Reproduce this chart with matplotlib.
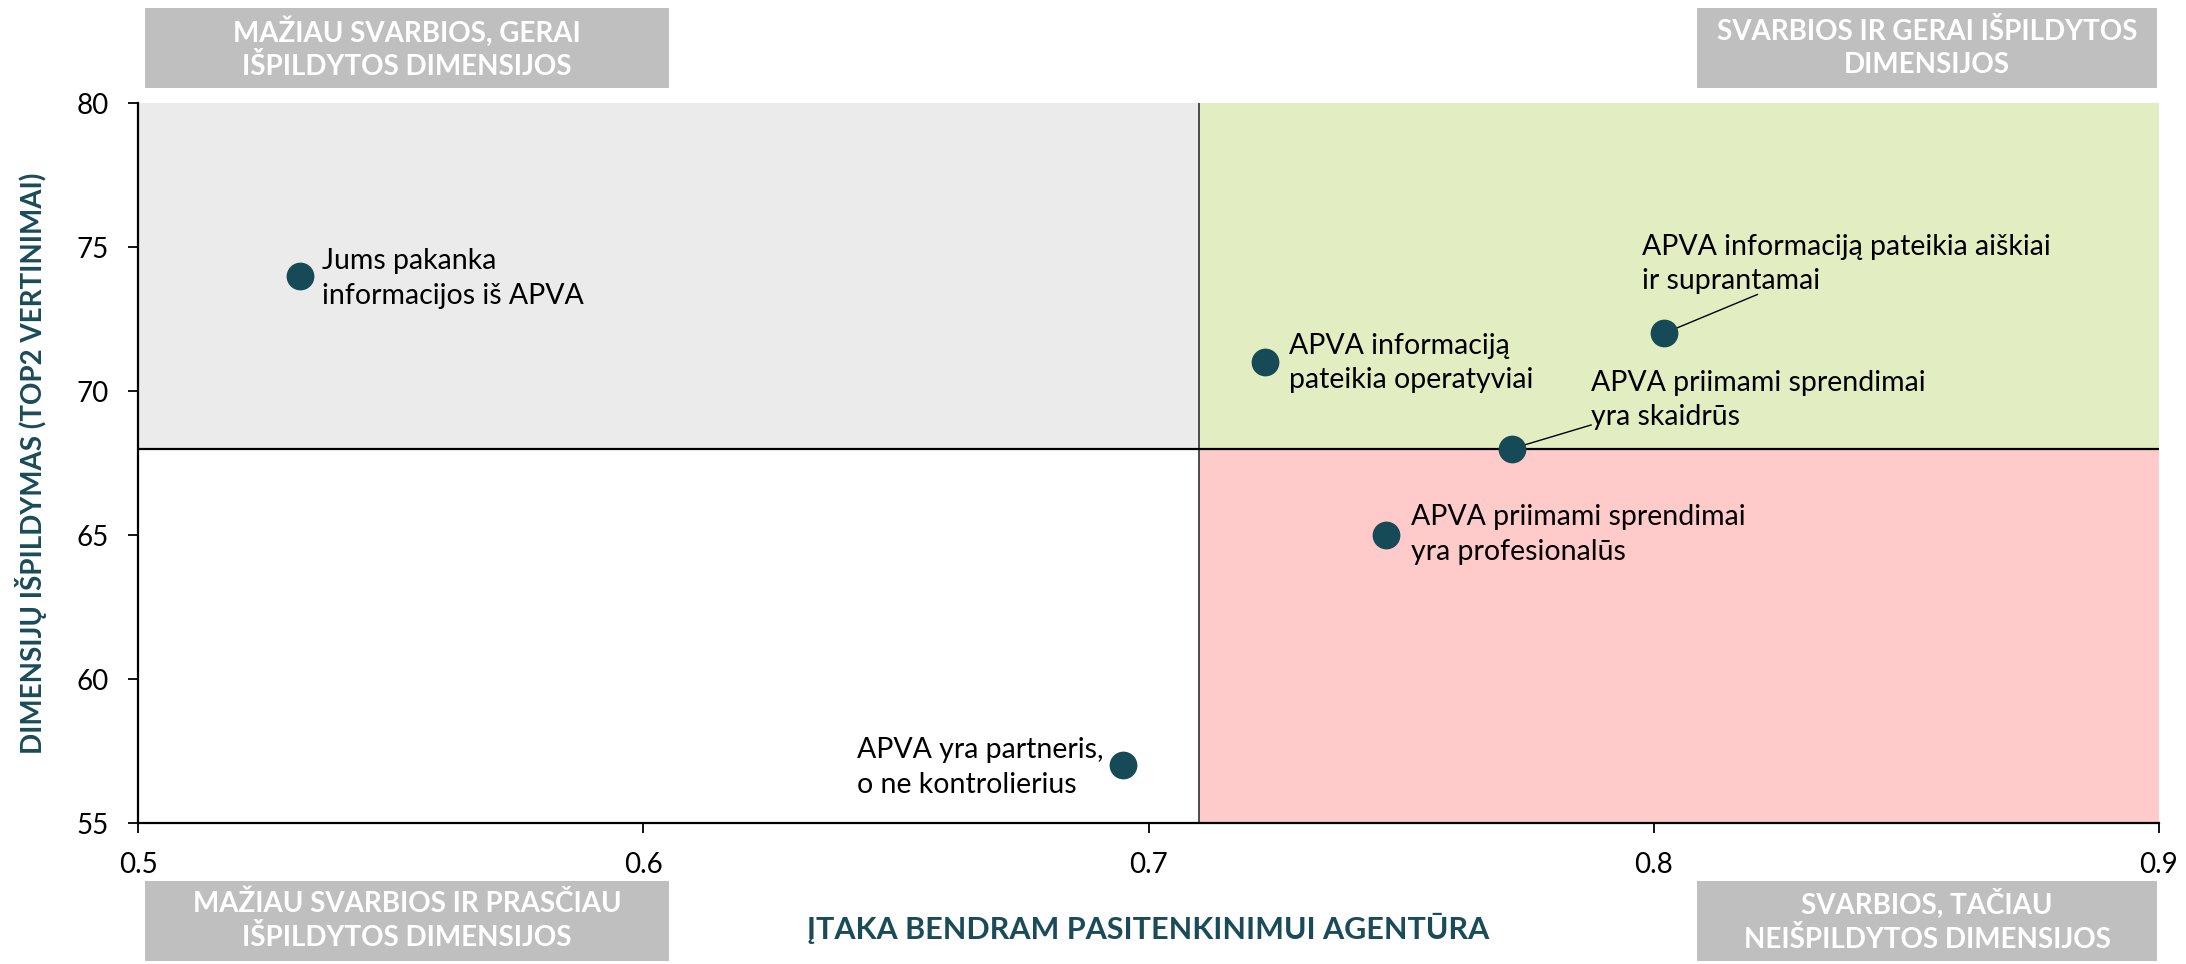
import matplotlib
matplotlib.use("Agg")
import matplotlib.pyplot as plt
from matplotlib.patches import Rectangle

plt.rcParams['font.family'] = ['Lato', 'DejaVu Sans']

# ---- data ----
labels = [
    "Jums pakanka\ninformacijos iš APVA",
    "APVA informaciją\npateikia operatyviai",
    "APVA informaciją pateikia aiškiai\nir suprantamai",
    "APVA priimami sprendimai\nyra skaidrūs",
    "APVA priimami sprendimai\nyra profesionalūs",
    "APVA yra partneris,\no ne kontrolierius",
]
x_vals = [0.532, 0.723, 0.802, 0.772, 0.747, 0.695]
y_vals = [74.0, 71.0, 72.0, 68.0, 65.0, 57.0]

x_ticks = [0.5, 0.6, 0.7, 0.8, 0.9]
y_ticks = [55, 60, 65, 70, 75, 80]
x_split = 0.71
y_split = 68

quadrant_titles = [
    "MAŽIAU SVARBIOS, GERAI\nIŠPILDYTOS DIMENSIJOS",
    "SVARBIOS IR GERAI IŠPILDYTOS\nDIMENSIJOS",
    "MAŽIAU SVARBIOS IR PRASČIAU\nIŠPILDYTOS DIMENSIJOS",
    "SVARBIOS, TAČIAU\nNEIŠPILDYTOS DIMENSIJOS",
]
x_title = "ĮTAKA BENDRAM PASITENKINIMUI AGENTŪRA"
y_title = "DIMENSIJŲ IŠPILDYMAS (TOP2 VERTINIMAI)"

# ---- layout (label placement, in data coords) ----
label_pos = [
    (0.5364, 73.92, 'left'),
    (0.7278, 70.97, 'left'),
    (0.7977, 74.41, 'left'),
    (0.7876, 69.69, 'left'),
    (0.7520, 65.02, 'left'),
    (0.6910, 56.94, 'right'),
]
leader_end = {2: (0.8205, 73.35), 3: (0.7876, 68.82)}

W, H = 2186, 964
fig = plt.figure(figsize=(W / 100, H / 100), dpi=100)
ax = fig.add_axes([138 / W, 1 - 823 / H, (2159 - 138) / W, (823 - 103) / H])

xmin, xmax = x_ticks[0], x_ticks[-1]
ymin, ymax = y_ticks[0], y_ticks[-1]
ax.set_xlim(xmin, xmax)
ax.set_ylim(ymin, ymax)

# quadrants
ax.add_patch(Rectangle((xmin, y_split), x_split - xmin, ymax - y_split,
                       facecolor='#EBEBEB', edgecolor='none', zorder=0))
ax.add_patch(Rectangle((x_split, y_split), xmax - x_split, ymax - y_split,
                       facecolor='#E2EEC2', edgecolor='none', zorder=0))
ax.add_patch(Rectangle((x_split, ymin), xmax - x_split, y_split - ymin,
                       facecolor='#FFCACA', edgecolor='none', zorder=0))
ax.axvline(x_split, color='#404040', lw=1.3, zorder=1)
ax.axhline(y_split, color='black', lw=1.6, zorder=1)

# leader lines
for i, (ex, ey) in leader_end.items():
    ax.plot([x_vals[i], ex], [y_vals[i], ey], color='black', lw=1.0, zorder=2)

ax.scatter(x_vals, y_vals, s=400, color='#164A56', zorder=3, linewidths=0)

for lab, (tx, ty, ha) in zip(labels, label_pos):
    ax.text(tx, ty, lab, ha=ha, va='center', multialignment='left',
            fontsize=20.5, color='black', linespacing=1.42, zorder=4)

ax.set_xticks(x_ticks)
ax.set_xticklabels([f"{v:g}" for v in x_ticks])
ax.set_yticks(y_ticks)
ax.set_yticklabels([str(v) for v in y_ticks])
ax.tick_params(axis='both', labelsize=20, length=7.2, width=1.3, pad=14, colors='black')
for s in ['top', 'right']:
    ax.spines[s].set_visible(False)
for s in ['left', 'bottom']:
    ax.spines[s].set_linewidth(1.6)
    ax.spines[s].set_color('black')
    ax.spines[s].set_zorder(5)

# quadrant title boxes (figure coords)
boxes = [
    (145, 8, 669, 88),
    (1697, 8, 2157, 88),
    (145, 881, 669, 961),
    (1697, 881, 2157, 961),
]
for (x0, y0, x1, y1), t in zip(boxes, quadrant_titles):
    fig.patches.append(Rectangle((x0 / W, 1 - y1 / H), (x1 - x0) / W, (y1 - y0) / H,
                                 transform=fig.transFigure, facecolor='#BFBFBF',
                                 edgecolor='none', zorder=0))
    fig.text((x0 + x1) / 2 / W, 1 - (y0 + y1) / 2 / H, t, ha='center', va='center',
             fontsize=20, fontweight='bold', color='white', linespacing=1.3)

fig.text(1148 / W, 1 - 928 / H, x_title, ha='center', va='center', fontsize=22,
         fontweight='bold', color='#1A4B59')
fig.text(31 / W, 1 - 463 / H, y_title, ha='center', va='center', rotation=90,
         fontsize=20, fontweight='bold', color='#1A4B59')

fig.savefig('out.png', dpi=100)
